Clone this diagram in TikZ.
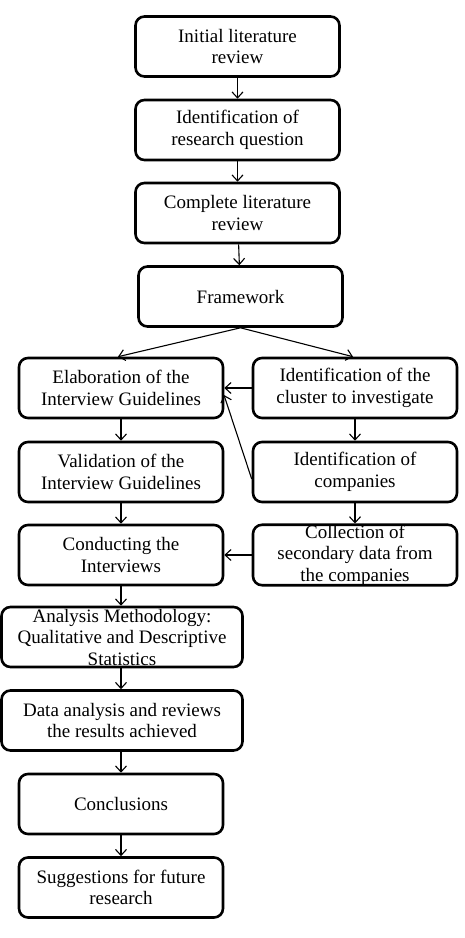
\documentclass[tikz,border=0pt]{standalone}
\usepackage{fontspec}
\setmainfont{Liberation Serif}
\usetikzlibrary{arrows.meta}
\begin{document}
\begin{tikzpicture}[x=1pt,y=-1pt,
  box/.style={draw=black,line width=2.6pt,rounded corners=9pt,align=center,
    minimum width=204pt,minimum height=60pt,inner sep=0pt,
    font=\fontsize{19}{21.5}\selectfont},
  wide/.style={minimum width=241pt},
  arr/.style={draw=black,line width=1.1pt,-{Straight Barb[length=6pt,width=11pt,line width=1.1pt]}}]
\useasboundingbox (0,0) rectangle (465,938);
\node[box] (b1) at (237.5,46.5) {Initial literature\\review};
\node[box] (b2) at (237.5,130) {Identification of\\research question};
\node[box] (b3) at (237.5,213) {Complete literature\\review};
\node[box] (b4) at (240.5,296.5) {Framework};
\node[box] (b5) at (121,388) {Elaboration of the\\Interview Guidelines};
\node[box] (b6) at (355,388) {Identification of the\\cluster to investigate};
\node[box] (b7) at (121,472) {Validation of the\\Interview Guidelines};
\node[box] (b8) at (355,472) {Identification of\\companies};
\node[box] (b9) at (121,555) {Conducting the\\Interviews};
\node[box] (b10) at (355,555) {Collection of\\secondary data from\\the companies};
\node[box,wide] (b11) at (122,637) {Analysis Methodology:\\Qualitative and Descriptive\\Statistics};
\node[box,wide] (b12) at (122,720.5) {Data analysis and reviews\\the results achieved};
\node[box] (b13) at (121,804) {Conclusions};
\node[box] (b14) at (121,887.5) {Suggestions for future\\research};
\coordinate (c5r) at (224,395);
\draw[arr] (b1) -- (b2);
\draw[arr] (b2) -- (b3);
\draw[arr] (b3) -- (b4);
\draw[arr] (b4.south) -- ([xshift=-3pt]b5.north);
\draw[arr] (b4.south) -- ([xshift=-2pt]b6.north);
\draw[arr] (b5) -- (b7);
\draw[arr] (b7) -- (b9);
\draw[arr] (b9) -- (b11.north -| b9);
\draw[arr] (b11.south -| b9) -- (b12.north -| b9);
\draw[arr] (b12.south -| b13) -- (b13);
\draw[arr] (b13) -- (b14);
\draw[arr] (b6) -- (b8);
\draw[arr] (b8) -- (b10);
\draw[arr] (b6.west) -- (b5.east);
\draw[arr] ([yshift=-7pt]b8.west) -- (c5r);
\draw[arr] (b10.west) -- (b9.east);
\end{tikzpicture}
\end{document}
